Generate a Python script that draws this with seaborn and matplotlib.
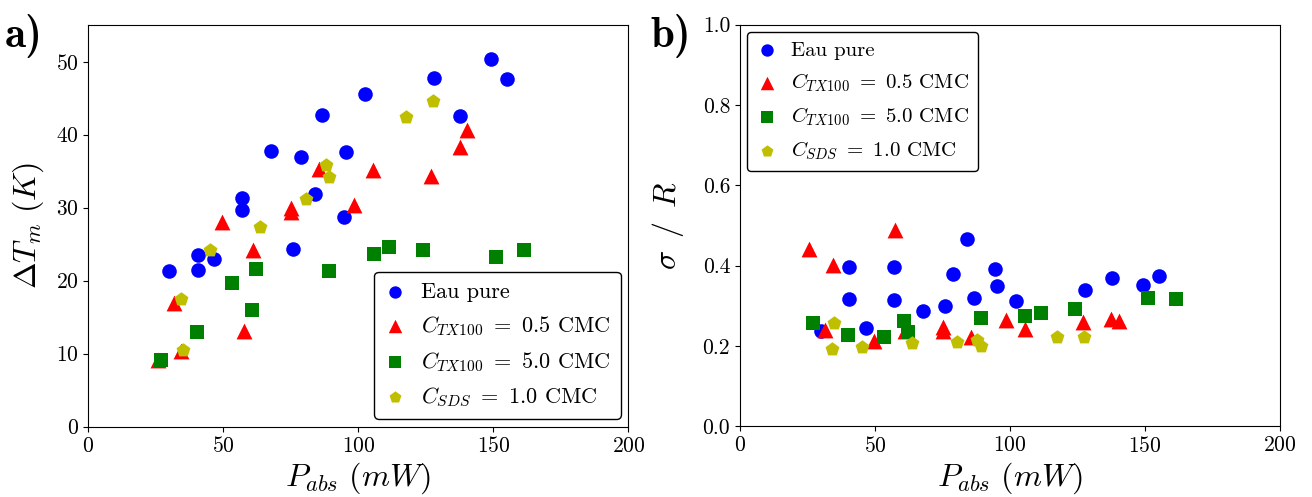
import numpy as np
import pandas as pd
import matplotlib
matplotlib.use('Agg')
import matplotlib.pyplot as plt
import seaborn as sns

# Eau pure
p_eau = [30.0, 40.5, 40.5, 46.7, 57.1, 57.1, 67.7, 75.9, 78.9, 84.1, 86.7, 94.6, 95.3, 102.4, 127.9, 137.8, 149.1, 155.2]
dt_eau = [21.3, 21.5, 23.5, 22.9, 31.3, 29.7, 37.8, 24.4, 37.0, 31.9, 42.7, 28.7, 37.6, 45.5, 47.8, 42.6, 50.3, 47.6]
sr_eau = [0.236, 0.397, 0.316, 0.244, 0.396, 0.315, 0.286, 0.300, 0.379, 0.467, 0.320, 0.391, 0.348, 0.311, 0.338, 0.368, 0.351, 0.373]

# TX100 0.5 CMC
p_tx05 = [25.7, 31.6, 34.4, 49.5, 57.6, 61.1, 75.1, 75.1, 85.5, 98.5, 105.5, 127.0, 137.5, 140.2]
dt_tx05 = [9.2, 17.0, 10.3, 28.1, 13.1, 24.2, 30.0, 29.4, 35.3, 30.4, 35.2, 34.3, 38.3, 40.7]
sr_tx05 = [0.442, 0.240, 0.402, 0.211, 0.488, 0.236, 0.248, 0.236, 0.223, 0.265, 0.243, 0.259, 0.267, 0.262]

# TX100 5.0 CMC
p_tx50 = [27.0, 40.1, 53.4, 60.7, 62.1, 89.3, 105.7, 111.4, 123.9, 151.1, 161.5]
dt_tx50 = [9.2, 12.9, 19.7, 16.0, 21.6, 21.3, 23.7, 24.6, 24.2, 23.3, 24.2]
sr_tx50 = [0.257, 0.226, 0.222, 0.263, 0.234, 0.269, 0.274, 0.283, 0.292, 0.320, 0.316]

# SDS 1.0 CMC
p_sds = [34.2, 34.9, 45.2, 63.6, 80.5, 87.9, 89.2, 117.6, 127.5]
dt_sds = [17.5, 10.5, 24.2, 27.4, 31.2, 35.9, 34.2, 42.4, 44.6]
sr_sds = [0.192, 0.257, 0.198, 0.208, 0.209, 0.215, 0.200, 0.223, 0.221]

labels = ['Eau pure', r'$C_{TX100}\ =\ 0.5$ CMC', r'$C_{TX100}\ =\ 5.0$ CMC', r'$C_{SDS}\ =\ 1.0$ CMC']
colors = ['b', 'r', 'g', 'y']
markers = ['o', '^', 's', 'p']
sizes = [110, 130, 100, 110]

series = [
    (p_eau, dt_eau, sr_eau),
    (p_tx05, dt_tx05, sr_tx05),
    (p_tx50, dt_tx50, sr_tx50),
    (p_sds, dt_sds, sr_sds),
]

plt.rcParams['font.family'] = 'serif'
plt.rcParams['font.serif'] = ['cmr10']
plt.rcParams['mathtext.fontset'] = 'cm'
plt.rcParams['axes.formatter.use_mathtext'] = True
plt.rcParams['axes.unicode_minus'] = False

fig = plt.figure(figsize=(13.12, 4.97), dpi=100)
ax1 = fig.add_axes([0.0673, 0.1415, 0.4116, 0.808])
ax2 = fig.add_axes([0.5640, 0.1425, 0.4116, 0.808])

for (p, dt, sr), lab, c, m, s in zip(series, labels, colors, markers, sizes):
    d = pd.DataFrame({'P': p, 'dT': dt, 'sR': sr})
    sns.scatterplot(data=d, x='P', y='dT', ax=ax1, color=c, marker=m, s=s,
                    linewidth=0, label=lab)
    sns.scatterplot(data=d, x='P', y='sR', ax=ax2, color=c, marker=m, s=s,
                    linewidth=0, label=lab)

ax1.set_xlim(0, 200)
ax1.set_ylim(0, 55)
ax1.set_xticks([0, 50, 100, 150, 200])
ax1.set_yticks([0, 10, 20, 30, 40, 50])
ax1.set_xlabel(r'$P_{abs}\ (mW)$', fontsize=23, labelpad=3)
ax1.set_ylabel(r'$\Delta T_m\ (K)$', fontsize=23, labelpad=7)

ax2.set_xlim(0, 200)
ax2.set_ylim(0, 1.0)
ax2.set_xticks([0, 50, 100, 150, 200])
ax2.set_yticks([0.0, 0.2, 0.4, 0.6, 0.8, 1.0])
ax2.set_yticklabels(['0.0', '0.2', '0.4', '0.6', '0.8', '1.0'])
ax2.set_xlabel(r'$P_{abs}\ (mW)$', fontsize=23, labelpad=3)
ax2.set_ylabel(r'$\sigma\ \,/\ \,R$', fontsize=23, labelpad=12)

for ax in (ax1, ax2):
    ax.tick_params(labelsize=15.5)
    for sp in ax.spines.values():
        sp.set_color('black')

leg_kw = dict(frameon=True, edgecolor='black', fancybox=True, framealpha=1,
              handlelength=1.0, handletextpad=0.65, borderpad=0.45,
              labelspacing=0.55, borderaxespad=0.35, markerscale=0.85)
l1 = ax1.legend(loc='lower right', fontsize=16, **leg_kw)
l2 = ax2.legend(loc='upper left', fontsize=15, **leg_kw)

fig.text(0.004, 0.905, 'a)', fontsize=31, fontfamily='cmb10', fontweight='bold')
fig.text(0.496, 0.905, 'b)', fontsize=31, fontfamily='cmb10', fontweight='bold')

fig.savefig('out.png', dpi=100)
